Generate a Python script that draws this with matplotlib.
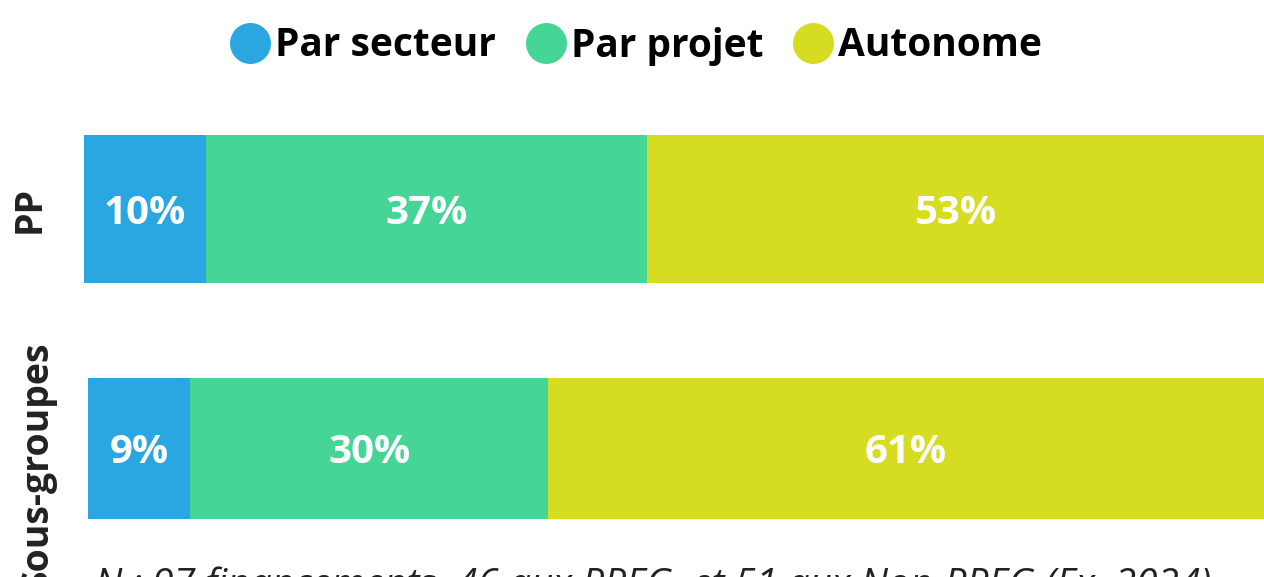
import matplotlib
matplotlib.use("Agg")
import matplotlib.pyplot as plt
from matplotlib.lines import Line2D

categories = ["PP", "Sous-groupes"]
series_names = ["Par secteur", "Par projet", "Autonome"]
values_pp = [10.3, 37.4, 52.3]
values_sg = [8.7, 30.4, 60.9]
labels_pp = ["10%", "37%", "53%"]
labels_sg = ["9%", "30%", "61%"]
colors = ["#2AA7E0", "#45D596", "#D6DC21"]
footer = "N : 97 financements, 46 aux PPEG, et 51 aux Non-PPEG (Ex. 2024)"

plt.rcParams['font.family'] = ['Open Sans', 'DejaVu Sans']

W, H = 1264, 577
fig = plt.figure(figsize=(W / 100, H / 100), dpi=100)

def px_axes(x0, y0, x1, y1):
    return fig.add_axes([x0 / W, 1 - y1 / H, (x1 - x0) / W, (y1 - y0) / H])

ax1 = px_axes(84, 135, 1264, 283)
ax2 = px_axes(88, 378, 1264, 519)

for ax, vals, labs in ((ax1, values_pp, labels_pp), (ax2, values_sg, labels_sg)):
    left = 0
    for v, lab, c in zip(vals, labs, colors):
        ax.barh(0, v, left=left, height=1.0, color=c, edgecolor='none')
        ax.text(left + v / 2, -0.03, lab, ha='center', va='center',
                color='white', fontsize=29, fontweight='bold')
        left += v
    ax.set_xlim(0, sum(vals))
    ax.set_ylim(-0.5, 0.5)
    ax.axis('off')

# category labels
fig.text(30 / W, 1 - 209 / H, categories[0], rotation=90, ha='center', va='center',
         fontsize=27, fontweight='bold', color='#222222')
fig.text(37 / W, 1 - 466 / H, categories[1], rotation=90, ha='center', va='center',
         fontsize=27, fontweight='bold', color='#222222')

handles = [Line2D([0], [0], marker='o', linestyle='none', markersize=29.5,
                  markerfacecolor=c, markeredgecolor='none') for c in colors]
fig.legend(handles, series_names, loc='center', bbox_to_anchor=(636 / W, 1 - 46 / H),
           ncol=3, frameon=False, handletextpad=0.12, columnspacing=0.75,
           handlelength=1.05, borderpad=0, borderaxespad=0,
           prop={'size': 28, 'weight': 'bold'})

fig.text(95 / W, 1 - 596 / H, footer, ha='left', va='baseline', fontsize=28,
         fontstyle='italic', color='#222222')

fig.savefig("out.png", dpi=100)
